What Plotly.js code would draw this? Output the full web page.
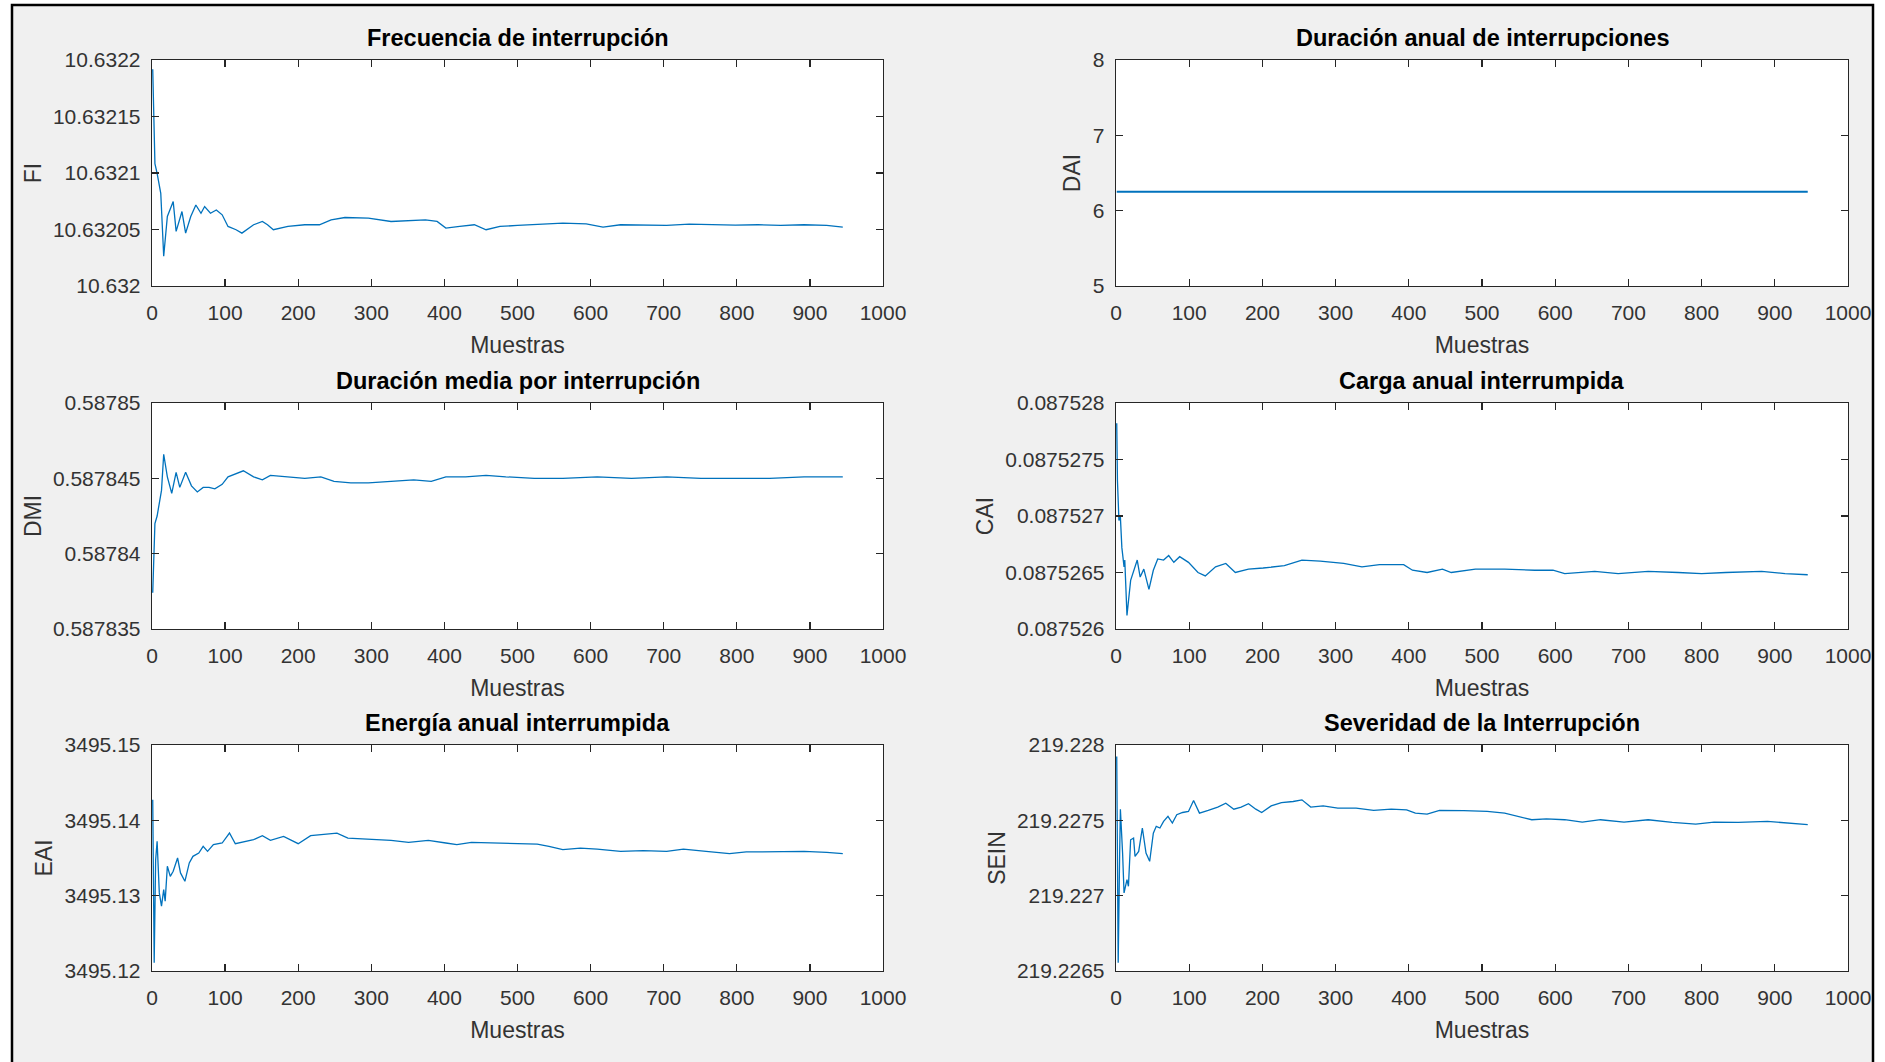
<!DOCTYPE html>
<html>
<head>
<meta charset="utf-8">
<script src="https://cdn.plot.ly/plotly-3.0.1.min.js"></script>
<style>
  html, body { margin: 0; padding: 0; background: #ffffff; }
  #chart { width: 1885px; height: 1062px; }
</style>
</head>
<body>
<div id="chart"></div>
<script>
// ---------------- data ----------------
const xTickVals = [0, 100, 200, 300, 400, 500, 600, 700, 800, 900, 1000];
const xTickText = ['0', '100', '200', '300', '400', '500', '600', '700', '800', '900', '1000'];

// Frecuencia de interrupción (FI)
const fiX = [1,4,7,12,16,21,29,33,41,46,53,60,67,72,80,88,96,104,115,123,139,151,158,166,186,209,229,245,264,296,327,351,374,390,402,421,441,457,476,500,531,562,594,617,641,672,704,735,766,798,829,860,892,923,945];
const fiY = [10.6321918,10.6321083,10.6320996,10.6320820,10.6320264,10.6320615,10.6320747,10.6320483,10.6320659,10.6320468,
             10.6320615,10.6320717,10.6320644,10.6320703,10.6320644,10.6320673,10.6320630,10.6320527,10.6320498,10.6320468,
             10.6320542,10.6320571,10.6320542,10.6320498,10.6320527,10.6320542,10.6320542,10.6320586,10.6320606,10.6320600,
             10.6320571,10.6320577,10.6320586,10.6320571,10.6320512,10.6320527,10.6320542,10.6320498,10.6320527,10.6320536,
             10.6320548,10.6320556,10.6320550,10.6320521,10.6320542,10.6320542,10.6320536,10.6320548,10.6320542,10.6320539,
             10.6320542,10.6320536,10.6320542,10.6320536,10.6320521];
const fiTickVals = [10.632, 10.63205, 10.6321, 10.63215, 10.6322];
const fiTickText = ['10.632', '10.63205', '10.6321', '10.63215', '10.6322'];

// Duración anual de interrupciones (DAI)
const daiX = [1, 945];
const daiY = [6.25, 6.25];
const daiTickVals = [5, 6, 7, 8];
const daiTickText = ['5', '6', '7', '8'];

// Duración media por interrupción (DMI)
const dmiX = [1,2,4,7,10,13,16,21,27,33,38,46,54,62,70,78,86,96,104,115,125,139,151,162,186,209,231,249,272,296,327,358,382,402,429,457,484,523,562,609,656,704,751,798,845,892,945];
const dmiY = [0.5878374,0.5878391,0.5878420,0.5878425,0.5878435,0.5878442,0.5878466,0.5878451,0.5878440,0.5878454,
              0.5878444,0.5878454,0.5878445,0.5878441,0.5878444,0.5878444,0.5878443,0.5878446,0.5878451,0.5878453,
              0.5878455,0.5878451,0.5878449,0.5878452,0.5878451,0.5878450,0.5878451,0.5878448,0.5878447,0.5878447,
              0.5878448,0.5878449,0.5878448,0.5878451,0.5878451,0.5878452,0.5878451,0.5878450,0.5878450,0.5878451,
              0.5878450,0.5878451,0.5878450,0.5878450,0.5878450,0.5878451,0.5878451];
const dmiTickVals = [0.587835, 0.58784, 0.587845, 0.58785];
const dmiTickText = ['0.587835', '0.58784', '0.587845', '0.58785'];

// Carga anual interrumpida (CAI)
const caiX = [1,2,4,6,8,11,12,15,20,24,29,33,38,45,51,57,65,72,79,87,99,112,122,136,150,163,181,201,230,254,279,311,336,360,393,405,425,446,458,491,531,572,597,613,654,686,727,768,800,833,882,914,945];
const caiY = [0.08752782,0.08752731,0.08752696,0.08752699,0.08752672,0.08752655,0.08752661,0.08752612,0.08752643,0.08752652,
              0.08752661,0.08752646,0.08752653,0.08752635,0.08752652,0.08752662,0.08752661,0.08752665,0.08752659,0.08752664,
              0.08752659,0.08752650,0.08752647,0.08752655,0.08752658,0.08752650,0.08752653,0.08752654,0.08752656,0.08752661,
              0.08752660,0.08752658,0.08752655,0.08752657,0.08752657,0.08752652,0.08752650,0.08752653,0.08752650,0.08752653,
              0.08752653,0.08752652,0.08752652,0.08752649,0.08752651,0.08752649,0.08752651,0.08752650,0.08752649,0.08752650,
              0.08752651,0.08752649,0.08752648];
const caiTickVals = [0.087526, 0.0875265, 0.087527, 0.0875275, 0.087528];
const caiTickText = ['0.087526', '0.0875265', '0.087527', '0.0875275', '0.087528'];

// Energía anual interrumpida (EAI)
const eaiX = [1,2,3,5,7,10,13,16,18,21,25,29,35,39,45,51,56,64,70,76,84,96,106,114,127,139,151,162,180,190,200,217,233,253,268,296,327,351,378,402,417,437,468,500,527,543,562,586,609,641,672,704,727,758,790,813,852,892,923,945];
const eaiY = [3495.14272,3495.13125,3495.12110,3495.13478,3495.13721,3495.13037,3495.12860,3495.13081,3495.12927,3495.13390,
              3495.13257,3495.13324,3495.13500,3495.13302,3495.13191,3495.13434,3495.13522,3495.13566,3495.13655,3495.13588,
              3495.13677,3495.13699,3495.13831,3495.13690,3495.13721,3495.13743,3495.13796,3495.13734,3495.13787,3495.13743,
              3495.13690,3495.13796,3495.13809,3495.13831,3495.13765,3495.13752,3495.13734,3495.13707,3495.13734,3495.13699,
              3495.13677,3495.13707,3495.13699,3495.13699,3495.13685,3495.13655,3495.13610,3495.13632,3495.13619,3495.13588,
              3495.13597,3495.13588,3495.13619,3495.13588,3495.13557,3495.13580,3495.13580,3495.13588,3495.13575,3495.13557];
const eaiTickVals = [3495.12, 3495.13, 3495.14, 3495.15];
const eaiTickText = ['3495.12', '3495.13', '3495.14', '3495.15'];

// Severidad de la Interrupción (SEIN)
const seinX = [1,2,3,5,6,9,11,15,17,20,24,26,31,36,41,46,51,55,60,65,71,77,83,91,99,106,114,126,139,150,161,171,181,191,199,212,226,242,254,266,283,303,328,352,376,397,409,425,442,475,507,531,552,568,588,613,637,662,694,727,760,792,817,850,890,914,945];
const seinY = [219.227923,219.2270625,219.2265552,219.227283,219.227574,219.227283,219.227018,219.227107,219.2270625,219.227371,
               219.227382,219.227261,219.227294,219.227449,219.227283,219.227228,219.227415,219.227460,219.227449,219.227493,
               219.227526,219.227482,219.227537,219.227552,219.227559,219.227632,219.227548,219.227566,219.227588,219.227614,
               219.227574,219.227588,219.227610,219.227574,219.227552,219.227596,219.227618,219.227625,219.227636,219.227588,
               219.227596,219.227581,219.227581,219.227566,219.227574,219.227570,219.227548,219.227541,219.227566,219.227564,
               219.227559,219.227548,219.227521,219.227504,219.227510,219.227504,219.227488,219.227504,219.227488,219.227504,
               219.227486,219.227475,219.227488,219.227486,219.227493,219.227482,219.227471];
const seinTickVals = [219.2265, 219.227, 219.2275, 219.228];
const seinTickText = ['219.2265', '219.227', '219.2275', '219.228'];

const titles = ['Frecuencia de interrupción', 'Duración anual de interrupciones',
                'Duración media por interrupción', 'Carga anual interrumpida',
                'Energía anual interrumpida', 'Severidad de la Interrupción'];
const yLabels = ['FI', 'DAI', 'DMI', 'CAI', 'EAI', 'SEIN'];
const xLabel = 'Muestras';

// ---------------- layout (pixel geometry of the figure) ----------------
const W = 1885, H = 1062;
const colPx = [[152, 883], [1116, 1848]];
const rowPx = [[60, 286], [403, 629], [745, 971]];
const titleY = [38, 381, 723];
const frame = {l: 12, r: 1873, t: 5};

const series = [
  {x: fiX, y: fiY, tv: fiTickVals, tt: fiTickText, r: [10.632, 10.6322]},
  {x: daiX, y: daiY, tv: daiTickVals, tt: daiTickText, r: [5, 8]},
  {x: dmiX, y: dmiY, tv: dmiTickVals, tt: dmiTickText, r: [0.587835, 0.58785]},
  {x: caiX, y: caiY, tv: caiTickVals, tt: caiTickText, r: [0.087526, 0.087528]},
  {x: eaiX, y: eaiY, tv: eaiTickVals, tt: eaiTickText, r: [3495.12, 3495.15]},
  {x: seinX, y: seinY, tv: seinTickVals, tt: seinTickText, r: [219.2265, 219.228]}
];

const FONT = 'Liberation Sans, Arial, Helvetica, sans-serif';
const AX = '#262626';
const traces = [];
const layout = {
  width: W, height: H,
  margin: {l: 0, r: 0, t: 0, b: 0},
  paper_bgcolor: '#f0f0f0',
  plot_bgcolor: '#ffffff',
  showlegend: false,
  font: {family: FONT, color: AX},
  annotations: [],
  shapes: [
    // white page outside the figure window
    {type: 'rect', xref: 'paper', yref: 'paper', layer: 'below', x0: 0, x1: frame.l / W, y0: 0, y1: 1,
     fillcolor: '#ffffff', line: {width: 0}},
    {type: 'rect', xref: 'paper', yref: 'paper', layer: 'below', x0: frame.r / W, x1: 1, y0: 0, y1: 1,
     fillcolor: '#ffffff', line: {width: 0}},
    {type: 'rect', xref: 'paper', yref: 'paper', layer: 'below', x0: 0, x1: 1, y0: 1 - frame.t / H, y1: 1,
     fillcolor: '#ffffff', line: {width: 0}},
    // window frame
    {type: 'rect', xref: 'paper', yref: 'paper', layer: 'below',
     x0: frame.l / W, x1: frame.r / W, y0: -0.05, y1: 1 - frame.t / H,
     fillcolor: 'rgba(0,0,0,0)', line: {color: '#000000', width: 2.5}}
  ]
};

series.forEach((s, i) => {
  const n = i + 1;
  const col = i % 2, row = Math.floor(i / 2);
  const sfx = n === 1 ? '' : String(n);
  traces.push({
    type: 'scatter', mode: 'lines',
    x: s.x, y: s.y,
    xaxis: 'x' + sfx, yaxis: 'y' + sfx,
    line: {color: '#0072BD', width: i === 1 ? 2 : 1.3},
    hoverinfo: 'skip'
  });
  const common = {
    showline: true, linecolor: AX, linewidth: 1.3, mirror: 'ticks',
    ticks: 'inside', ticklen: 7, tickwidth: 1.3, tickcolor: AX,
    showgrid: false, zeroline: false, fixedrange: true,
    tickfont: {family: FONT, size: 21, color: '#333333'}
  };
  layout['xaxis' + sfx] = Object.assign({}, common, {
    domain: [colPx[col][0] / W, colPx[col][1] / W],
    anchor: 'y' + sfx,
    range: [0, 1000], tickmode: 'array', tickvals: xTickVals, ticktext: xTickText,
    ticklabelstandoff: 7,
    title: {text: xLabel, font: {family: FONT, size: 23, color: '#333333'}, standoff: 14}
  });
  layout['yaxis' + sfx] = Object.assign({}, common, {
    domain: [1 - rowPx[row][1] / H, 1 - rowPx[row][0] / H],
    anchor: 'x' + sfx,
    range: s.r, tickmode: 'array', tickvals: s.tv, ticktext: s.tt,
    ticklabelstandoff: 6,
    title: {text: yLabels[i], font: {family: FONT, size: 23, color: '#333333'}, standoff: 5}
  });
  layout.annotations.push({
    xref: 'paper', yref: 'paper',
    x: (colPx[col][0] + colPx[col][1]) / 2 / W,
    y: 1 - titleY[row] / H,
    xanchor: 'center', yanchor: 'middle', showarrow: false,
    text: '<b>' + titles[i] + '</b>',
    font: {family: FONT, size: 23.5, color: '#000000'}
  });
});

Plotly.newPlot('chart', traces, layout, {displayModeBar: false, staticPlot: true});
</script>
</body>
</html>
